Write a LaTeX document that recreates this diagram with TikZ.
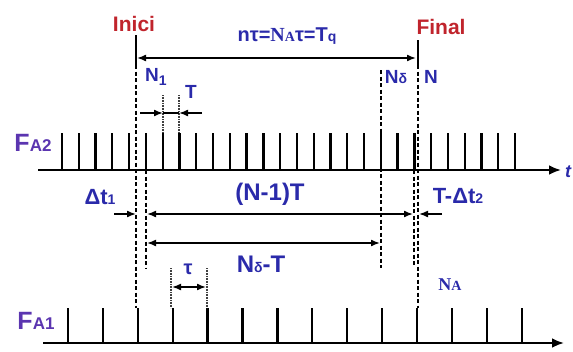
\documentclass[tikz,border=0pt]{standalone}
\usepackage{fontspec}
\setmainfont{Liberation Sans}
\newfontfamily\serifb{Liberation Serif}
\usetikzlibrary{arrows.meta}
\definecolor{lblue}{HTML}{2A2AAA}
\definecolor{lpurple}{HTML}{5B35B0}
\definecolor{lred}{HTML}{C0242C}
\tikzset{
  combtick/.style={line width=2.3pt},
  axisline/.style={line width=2.4pt,-{Latex[length=12pt,width=10pt]}},
  dimone/.style={line width=1.6pt,-{Latex[length=9pt,width=7pt]}},
  dimtwo/.style={line width=1.6pt,{Latex[length=9pt,width=7pt]}-{Latex[length=9pt,width=7pt]}},
  dashln/.style={line width=2pt,dash pattern=on 4pt off 2.5pt},
  dotln/.style={line width=1.6pt,dash pattern=on 0.8pt off 0.8pt,black!75},
  solidln/.style={line width=2pt},
  lbl/.style={font=\bfseries\fontsize{22}{24}\selectfont,text=lblue,inner sep=0pt},
  smalllbl/.style={font=\bfseries\fontsize{19}{20}\selectfont,text=lblue,inner sep=0pt},
  redlbl/.style={font=\bfseries\fontsize{21}{22}\selectfont,text=lred,inner sep=0pt},
  falbl/.style={font=\bfseries\fontsize{25}{26}\selectfont,text=lpurple,inner sep=0pt}
}
\newcommand{\smallsub}[1]{{\fontsize{14}{14}\selectfont #1}}
\begin{document}
\begin{tikzpicture}[x=1pt,y=-1pt]
\path[use as bounding box] (0,0) rectangle (573,351);
% axes
\coordinate (a2s) at (38,170); \coordinate (a2e) at (561,170);
\coordinate (a1s) at (43,343); \coordinate (a1e) at (564,343);
\draw[axisline] (a2s) -- (a2e);
\draw[axisline] (a1s) -- (a1e);
% combs
\foreach \i in {0,...,27} \draw[combtick] (62+\i*16.78,133) -- (62+\i*16.78,170);
\foreach \i in {0,...,13} \draw[combtick] (68+\i*34.9,308) -- (68+\i*34.9,343);
% Inici and Final lines
\coordinate (ini0) at (136,35); \coordinate (ini1) at (136,65); \coordinate (ini2) at (136,308);
\draw[solidln] (ini0) -- (ini1);
\draw[dashln] (ini1) -- (ini2);
\coordinate (fin0) at (418,40); \coordinate (fin1) at (418,65); \coordinate (fin2) at (418,308);
\draw[solidln] (fin0) -- (fin1);
\draw[dashln] (fin1) -- (fin2);
% other dashed lines
\coordinate (n1a) at (146,170); \coordinate (n1b) at (146,268);
\draw[dashln] (n1a) -- (n1b);
\coordinate (nda) at (381,70); \coordinate (ndb) at (381,268);
\draw[dashln] (nda) -- (ndb);
\coordinate (nna) at (414,170); \coordinate (nnb) at (414,266);
\draw[dashln] (nna) -- (nnb);
% dotted T lines
\coordinate (ta) at (163,95); \coordinate (tb) at (163,133);
\coordinate (tc) at (179,95); \coordinate (td) at (179,133);
\draw[dotln] (ta) -- (tb); \draw[dotln] (tc) -- (td);
% dotted tau lines
\coordinate (ua) at (171,268); \coordinate (ub) at (171,308);
\coordinate (uc) at (207,268); \coordinate (ud) at (207,308);
\draw[dotln] (ua) -- (ub); \draw[dotln] (uc) -- (ud);
% dimension arrows
\coordinate (top1) at (137,58); \coordinate (top2) at (416,58);
\draw[dimtwo] (top1) -- (top2);
\coordinate (t1) at (140,113); \coordinate (t2) at (163,113);
\coordinate (t3) at (202,113); \coordinate (t4) at (179,113);
\draw[dimone] (t1) -- (t2); \draw[dimone] (t3) -- (t4); \draw[line width=1.6pt] (t2) -- (t4);
\coordinate (d1a) at (114,214); \coordinate (d1b) at (136,214);
\draw[dimone] (d1a) -- (d1b);
\coordinate (nm1a) at (147,214); \coordinate (nm1b) at (413,214);
\draw[dimtwo] (nm1a) -- (nm1b);
\coordinate (d2a) at (442,214); \coordinate (d2b) at (419,214);
\draw[dimone] (d2a) -- (d2b);
\coordinate (ndta) at (147,243); \coordinate (ndtb) at (380,243);
\draw[dimtwo] (ndta) -- (ndtb);
\coordinate (tau1) at (172,287); \coordinate (tau2) at (206,287);
\draw[dimtwo] (tau1) -- (tau2);
% labels
\node[redlbl] (inici) at (134,24) {Inici};
\node[redlbl] (final) at (441,27) {Final};
\node[lbl,font=\bfseries\fontsize{20}{22}\selectfont] (toplbl) at (287,36) {nτ={\serifb N\smallsub{A}}τ=T\smallsub{q}};
\node[smalllbl] (lN1) at (156,77) {N\raisebox{-4pt}{\smallsub{1}}};
\node[smalllbl] (lT) at (191,92) {T};
\node[smalllbl] (lNd) at (396,77) {N\smallsub{δ}};
\node[smalllbl] (lN) at (431,77) {N};
\node[falbl] (fa2) at (33,143) {F{\fontsize{17}{17}\selectfont A2}};
\node[falbl] (fa1) at (36,321) {F{\fontsize{17}{17}\selectfont A1}};
\node[lbl] (ldt1) at (100,197) {Δt\smallsub{1}};
\node[lbl,font=\bfseries\fontsize{24}{26}\selectfont] (lnm1) at (270,194) {(N-1)T};
\node[lbl] (ldt2) at (458,196) {T-Δt\smallsub{2}};
\node[lbl,font=\bfseries\fontsize{24}{26}\selectfont] (lndt) at (261,264) {N\smallsub{δ}-T};
\node[lbl,font=\bfseries\fontsize{20}{22}\selectfont] (ltau) at (188,269) {τ};
\node[lbl,font=\bfseries\serifb\fontsize{18}{20}\selectfont] (lNA) at (450,285) {N\smallsub{A}};
\node[lbl,font=\bfseries\itshape\fontsize{18}{20}\selectfont] (lt) at (568,172) {t};
\end{tikzpicture}
\end{document}
